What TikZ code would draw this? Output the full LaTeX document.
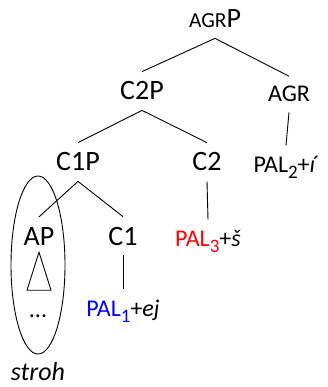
\documentclass[tikz,border=0pt]{standalone}
\usepackage{fontspec}
\setmainfont{Carlito}
\definecolor{palred}{RGB}{255,0,0}
\definecolor{palblue}{RGB}{0,0,255}
\newcommand{\labbig}{\fontsize{28}{32}\selectfont}
\newcommand{\labsmall}{\fontsize{24}{28}\selectfont}
\newcommand{\subs}[1]{\raisebox{-0.28em}{\fontsize{19}{19}\selectfont #1}}
\begin{document}
\begin{tikzpicture}[x=1pt,y=-1pt,
  lab/.style={anchor=base,inner xsep=0pt,inner ysep=10pt,font=\labbig},
  slab/.style={anchor=base,inner xsep=0pt,inner ysep=10pt,font=\labsmall},
  edge/.style={line width=0.9pt}]
\useasboundingbox (0,0) rectangle (327,387);
\node[lab] (agrp) at (215,28) {{\fontsize{21.5}{22}\selectfont AGR}P};
\node[slab] (agr) at (289,102) {AGR};
\node[lab] (c2p) at (142,100) {C2P};
\node[lab] (c1p) at (78,171) {C1P};
\node[lab] (c2) at (207,171) {C2};
\node[slab] (pal2) at (286,172) {PAL\subs{2}+\textit{í}};
\node[lab] (ap) at (39,245) {AP};
\node[lab] (c1) at (123,245) {C1};
\node[slab] (pal3) at (208,246) {\textcolor{palred}{PAL\subs{3}}+\textit{š}};
\node[slab] (pal1) at (123,316) {\textcolor{palblue}{PAL\subs{1}}+\textit{ej}};
\node[slab] (dots) at (38,317) {...};
\node[anchor=base,inner sep=0pt,font=\fontsize{26}{30}\selectfont\itshape] (stroh) at (38,380.5) {stroh};
\draw[edge] (agrp.south) -- (c2p.north);
\draw[edge] (agrp.south) -- (agr.north);
\draw[edge] (agr.south) -- (pal2.north);
\draw[edge] (c2p.south) -- (c1p.north);
\draw[edge] (c2p.south) -- (c2.north);
\draw[edge] (c2.south) -- (pal3.north);
\draw[edge] (c1p.south) -- (ap.north);
\draw[edge] (c1p.south) -- (c1.north);
\draw[edge] (c1.south) -- (pal1.north);
\draw[edge] ([yshift=3pt]ap.south) -- ++(-12,38) -- ++(24,0) -- cycle;
\draw[edge] (38,265) ellipse (27 and 89);
\end{tikzpicture}
\end{document}
